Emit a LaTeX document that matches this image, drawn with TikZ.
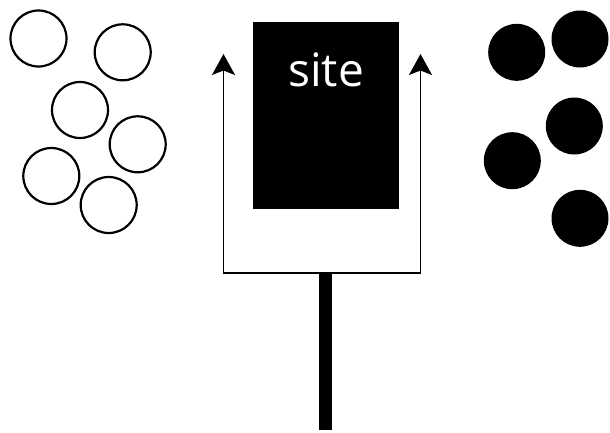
\documentclass[tikz,border=0pt]{standalone}
\usepackage{fontspec}
\setsansfont{Open Sans}
\usetikzlibrary{arrows.meta, positioning}

\begin{document}
\begin{tikzpicture}[
  x=1pt, y=-1pt,
  openball/.style={draw=black, line width=2.2pt, circle, minimum size=56pt, inner sep=0pt},
  fullball/.style={fill=black, circle, minimum size=57pt, inner sep=0pt},
  sitebox/.style={fill=black, rectangle, minimum width=146pt, minimum height=187pt, inner sep=0pt},
  sitelbl/.style={text=white, font=\fontsize{46}{50}\selectfont\sffamily, anchor=base, inner sep=0pt},
  fork/.style={line width=1.8pt, line join=miter, {Stealth[length=21pt,width=23pt,inset=4.5pt]}-{Stealth[length=21pt,width=23pt,inset=4.5pt]}},
  stem/.style={line width=13.3pt},
]
\useasboundingbox (0,0) rectangle (610,432);

%% Open balls (left)
\foreach \n/\x/\y in {1/38.5/38.5, 2/122.7/52.3, 3/80/110, 4/137.7/144.3, 5/51.3/176, 6/108.7/205} {
  \node[openball] (open\n) at (\x,\y) {};
}

%% Filled balls (right)
\foreach \n/\x/\y in {1/516.7/52.3, 2/580/39, 3/574.3/126, 4/512.3/160.7, 5/580/218.3} {
  \node[fullball] (full\n) at (\x,\y) {};
}

%% Site
\node[sitebox] (site) at (326,115.5) {};
\node[sitelbl] (sitetext) at (326,86.7) {site};

%% Fork and stem
\coordinate (ltip) at (223.5,54);
\coordinate (rtip) at (420.5,54);
\coordinate (lfork) at (223.5,273);
\coordinate (rfork) at (420.5,273);
\coordinate (stemtop) at (325.7,273);
\coordinate (stembot) at (325.7,430);
\draw[fork] (ltip) -- (lfork) -- (rfork) -- (rtip);
\draw[stem] (stemtop) -- (stembot);
\end{tikzpicture}
\end{document}
